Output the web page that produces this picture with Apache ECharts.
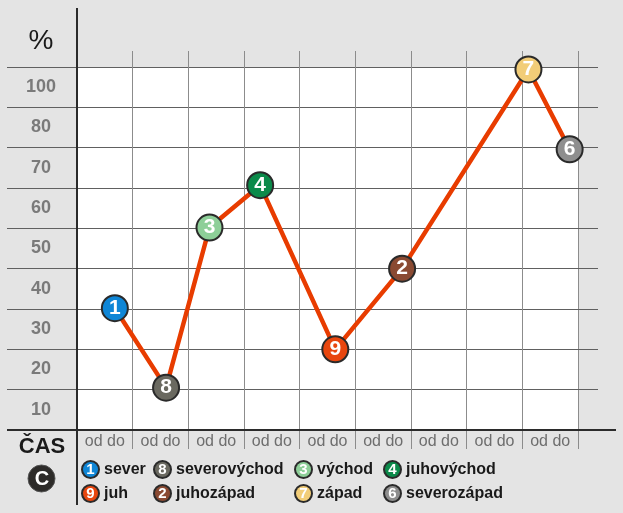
<!DOCTYPE html>
<html>
<head>
<meta charset="utf-8">
<script src="https://cdn.jsdelivr.net/npm/echarts@6/dist/echarts.min.js"></script>
<style>
html,body{margin:0;padding:0;background:#e4e4e4;}
#c{width:623px;height:513px;}
</style>
</head>
<body>
<div id="c"></div>
<script>
// ---- data ----
var directions = ['sever', 'severovýchod', 'východ', 'juhovýchod', 'juh', 'juhozápad', 'západ', 'severozápad'];
var markerNums = ['1', '8', '3', '4', '9', '2', '7', '6'];
// order of points along the path (index into directions)
var pathOrder = [0, 1, 2, 3, 4, 5, 6, 7];
var timeValues = [0.68, 1.60, 2.38, 3.29, 4.64, 5.84, 8.11, 8.85];
var percentValues = [30.2, 10.5, 50.2, 60.7, 20, 40, 89.4, 69.6];
var markerColors = ['#0f86d6', '#6a6960', '#8dcf98', '#0b8a4a', '#e8460e', '#8a4a32', '#f2cd78', '#8e8e8e'];
var xTickLabels = ['od do', 'od do', 'od do', 'od do', 'od do', 'od do', 'od do', 'od do', 'od do'];
var yTickLabels = ['10', '20', '30', '40', '50', '60', '70', '80', '100'];
// legend columns (indices into directions)
var legendCols = [[0, 4], [1, 5], [2, 6], [3, 7]];

var chart = echarts.init(document.getElementById('c'), null, {renderer: 'canvas'});

var linePts = pathOrder.map(function (i) { return [timeValues[i], percentValues[i]]; });

var FONT = 'Liberation Sans, Arial, sans-serif';

var series = [{
  type: 'line',
  name: '_path',
  data: linePts,
  symbol: 'none',
  lineStyle: {color: '#e83c00', width: 4.5},
  z: 3,
  silent: true
}];
directions.forEach(function (d, i) {
  series.push({
    type: 'scatter',
    name: d,
    data: [[timeValues[i], percentValues[i]]],
    symbol: 'circle',
    symbolSize: 26,
    itemStyle: {color: markerColors[i], borderColor: '#2a2a2a', borderWidth: 2, opacity: 1},
    label: {
      show: true, position: 'inside', formatter: markerNums[i],
      color: '#fff', fontWeight: 'bold', fontSize: 21, fontFamily: FONT
    },
    z: 5
  });
});

var rich = {t: {color: '#1a1a1a', fontSize: 16, fontWeight: 'bold', padding: [0, 0, 0, 6], fontFamily: FONT}};
directions.forEach(function (d, i) {
  rich['n' + i] = {
    backgroundColor: markerColors[i], borderColor: '#2a2a2a', borderWidth: 2, borderRadius: 9,
    width: 15, height: 15, lineHeight: 15, align: 'center', color: '#fff', fontWeight: 'bold', fontSize: 15,
    fontFamily: FONT
  };
});

var legendLefts = [78, 150, 291, 380];
var legends = legendCols.map(function (col, k) {
  return {
    orient: 'vertical', left: legendLefts[k], top: 460,
    data: col.map(function (i) { return {name: directions[i], icon: 'none'}; }),
    itemWidth: 0, itemHeight: 18, itemGap: 5, padding: 0,
    selectedMode: false,
    formatter: function (name) {
      var i = directions.indexOf(name);
      return '{n' + i + '|' + markerNums[i] + '}{t|' + name + '}';
    },
    textStyle: {rich: rich}
  };
});

var option = {
  backgroundColor: '#e4e4e4',
  animation: false,
  grid: {left: 77, right: 45, top: 67, bottom: 83, show: true, backgroundColor: '#ffffff', borderWidth: 0},
  legend: legends,
  xAxis: [{
    type: 'value', position: 'bottom', min: 0, max: 9, interval: 1,
    axisLine: {show: false},
    axisTick: {show: true, length: 19, lineStyle: {color: '#8c8c8c', width: 1}},
    axisLabel: {show: false},
    splitLine: {show: true, lineStyle: {color: '#8c8c8c', width: 1}}
  }, {
    type: 'category', position: 'bottom', data: xTickLabels, boundaryGap: true,
    axisLine: {show: false}, axisTick: {show: false}, splitLine: {show: false},
    axisLabel: {show: true, interval: 0, margin: 4, color: '#6e6e6e', fontSize: 16, fontFamily: FONT}
  }, {
    type: 'value', position: 'top', min: 0, max: 9, interval: 1,
    axisLine: {show: false},
    axisTick: {show: true, length: 16, lineStyle: {color: '#8c8c8c', width: 1}},
    axisLabel: {show: false}, splitLine: {show: false}
  }],
  yAxis: [{
    type: 'value', position: 'left', min: 0, max: 90, interval: 10,
    axisLine: {show: false},
    axisTick: {show: true, length: 70, lineStyle: {color: '#606060', width: 1}},
    axisLabel: {show: false},
    splitLine: {show: true, lineStyle: {color: '#606060', width: 1}}
  }, {
    type: 'category', position: 'left', data: yTickLabels, boundaryGap: true,
    axisLine: {show: false}, axisTick: {show: false}, splitLine: {show: false},
    axisLabel: {show: true, interval: 0, margin: 36, align: 'center', color: '#7a7a7a', fontSize: 18, fontWeight: 'bold', fontFamily: FONT}
  }, {
    type: 'value', position: 'right', min: 0, max: 90, interval: 10,
    axisLine: {show: false},
    axisTick: {show: true, length: 20, lineStyle: {color: '#606060', width: 1}},
    axisLabel: {show: false}, splitLine: {show: false}
  }],
  graphic: [
    {type: 'line', shape: {x1: 77, y1: 8, x2: 77, y2: 505}, style: {stroke: '#2b2b2b', lineWidth: 2}, z: 10},
    {type: 'line', shape: {x1: 7, y1: 430, x2: 616, y2: 430}, style: {stroke: '#2b2b2b', lineWidth: 2}, z: 10},
    {type: 'text', x: 41, y: 41, style: {text: '%', fill: '#1a1a1a', fontSize: 28, fontFamily: FONT, align: 'center', verticalAlign: 'middle'}, z: 10},
    {type: 'text', x: 42, y: 447, style: {text: 'ČAS', fill: '#1a1a1a', fontSize: 22, fontWeight: 'bold', fontFamily: FONT, align: 'center', verticalAlign: 'middle'}, z: 10},
    {type: 'circle', shape: {cx: 41.5, cy: 478.5, r: 13.5}, style: {fill: '#2d2b29', stroke: '#555', lineWidth: 1}, z: 10},
    {type: 'text', x: 42, y: 479.5, style: {text: 'C', fill: '#ffffff', fontSize: 20, fontWeight: 'bold', fontFamily: FONT, align: 'center', verticalAlign: 'middle'}, z: 11}
  ],
  series: series
};
chart.setOption(option);
</script>
</body>
</html>
